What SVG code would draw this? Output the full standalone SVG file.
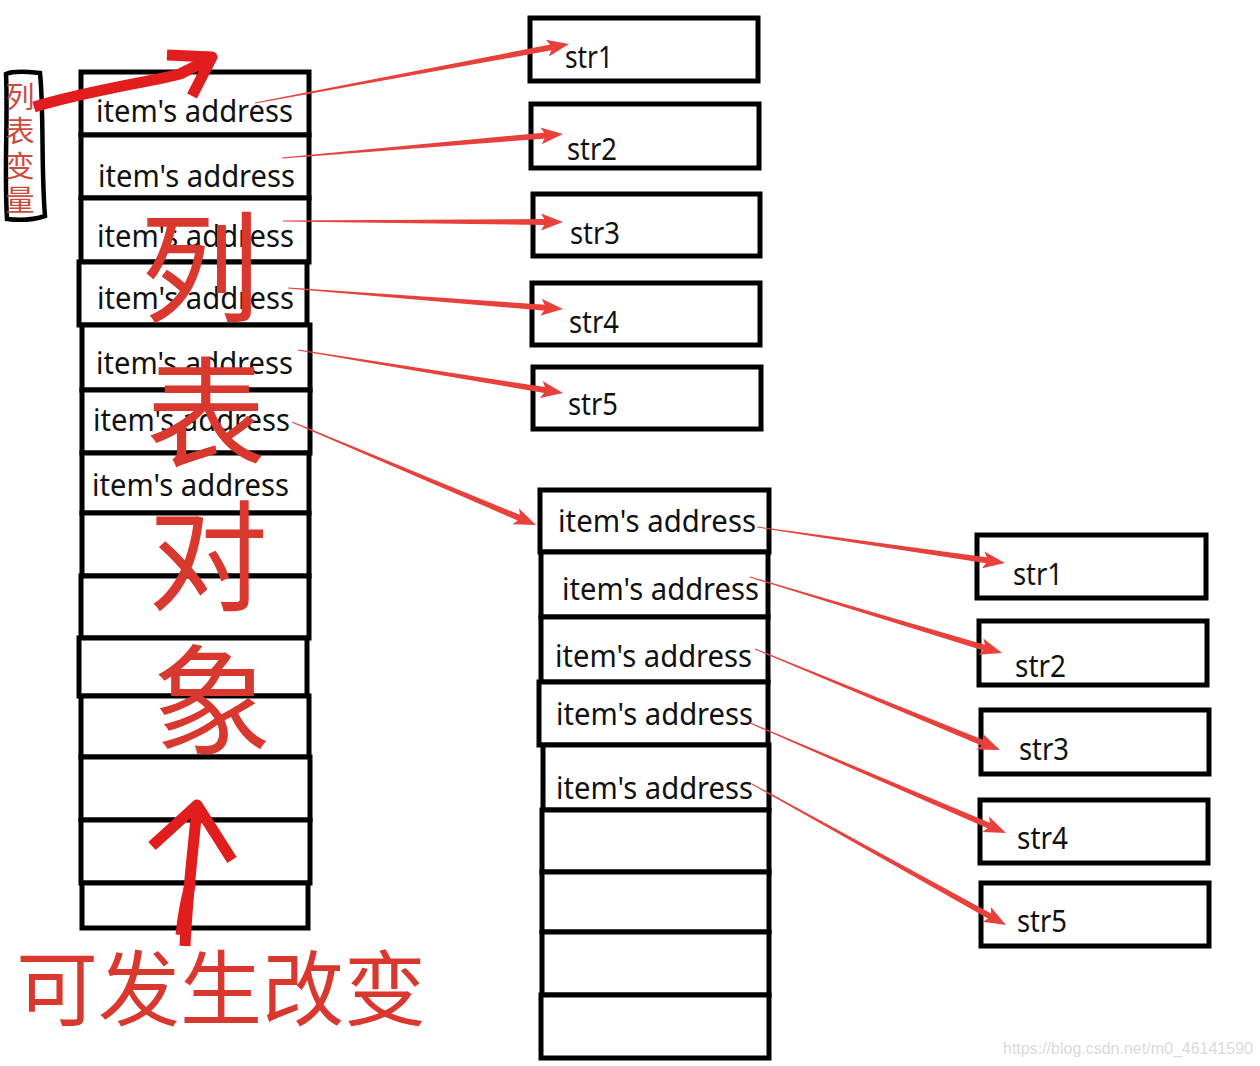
<svg xmlns="http://www.w3.org/2000/svg" xmlns:xlink="http://www.w3.org/1999/xlink" width="1260" height="1066" viewBox="0 0 1260 1066">
<style>
.cell{fill:#fff;stroke:#000;stroke-width:5}
.box{fill:#fff;stroke:#000;stroke-width:5}
.t{font-family:"Noto Sans","Open Sans","Liberation Sans",sans-serif;font-size:31px;fill:#111}
.big{font-family:"Noto Sans CJK SC","Noto Sans",sans-serif;font-size:120px;fill:#d9382e;text-anchor:middle}
.lbl{font-family:"Noto Sans CJK SC",sans-serif;font-size:29px;fill:#cf4a3e;text-anchor:middle}
.bot{font-family:"Noto Sans CJK SC",sans-serif;font-size:82px;fill:#d9382e}
.conn{fill:#e8413b}
.hand{fill:none;stroke:#e21d1d;stroke-width:11;stroke-linecap:butt;stroke-linejoin:round}
.wm{font-family:"Liberation Sans",Arial,sans-serif;font-size:16px;fill:#dadada}
</style>
<defs>
<polygon id="shaft" points="0,-0.5 100,-3 100,3 0,0.5"/>
<polygon id="head" points="0,0 -22,-8.5 -17,0 -22,8.5"/>
</defs>
<rect width="1260" height="1066" fill="#fff"/>

<g id="list1">
<g id="l1r1"><rect class="cell" x="81" y="72" width="228" height="63"/><text class="t" x="96" y="122" textLength="197" lengthAdjust="spacingAndGlyphs">item's address</text></g>
<g id="l1r2"><rect class="cell" x="81" y="135" width="228" height="63"/><text class="t" x="98" y="187" textLength="197" lengthAdjust="spacingAndGlyphs">item's address</text></g>
<g id="l1r3"><rect class="cell" x="81" y="198" width="228" height="64"/><text class="t" x="97" y="247" textLength="197" lengthAdjust="spacingAndGlyphs">item's address</text></g>
<g id="l1r4"><rect class="cell" x="79" y="262" width="228" height="63"/><text class="t" x="97" y="309" textLength="197" lengthAdjust="spacingAndGlyphs">item's address</text></g>
<g id="l1r5"><rect class="cell" x="82" y="325" width="228" height="65"/><text class="t" x="96" y="374" textLength="197" lengthAdjust="spacingAndGlyphs">item's address</text></g>
<g id="l1r6"><rect class="cell" x="82" y="390" width="228" height="63"/><text class="t" x="93" y="431" textLength="197" lengthAdjust="spacingAndGlyphs">item's address</text></g>
<g id="l1r7"><rect class="cell" x="82" y="453" width="227" height="60"/><text class="t" x="92" y="496" textLength="197" lengthAdjust="spacingAndGlyphs">item's address</text></g>
<g id="l1r8"><rect class="cell" x="82" y="513" width="227" height="63"/></g>
<g id="l1r9"><rect class="cell" x="81" y="576" width="228" height="62"/></g>
<g id="l1r10"><rect class="cell" x="79" y="638" width="228" height="58"/></g>
<g id="l1r11"><rect class="cell" x="81" y="696" width="228" height="61"/></g>
<g id="l1r12"><rect class="cell" x="81" y="757" width="229" height="63"/></g>
<g id="l1r13"><rect class="cell" x="81" y="820" width="229" height="63"/></g>
<g id="l1r14"><rect class="cell" x="82" y="883" width="226" height="45"/></g>
</g>

<g id="list2">
<g id="l2r1"><rect class="cell" x="540" y="490" width="229" height="62"/><text class="t" x="558" y="532" textLength="198" lengthAdjust="spacingAndGlyphs">item's address</text></g>
<g id="l2r2"><rect class="cell" x="541" y="552" width="227" height="65"/><text class="t" x="562" y="600" textLength="197" lengthAdjust="spacingAndGlyphs">item's address</text></g>
<g id="l2r3"><rect class="cell" x="541" y="617" width="227" height="65"/><text class="t" x="555" y="667" textLength="197" lengthAdjust="spacingAndGlyphs">item's address</text></g>
<g id="l2r4"><rect class="cell" x="539" y="682" width="229" height="63"/><text class="t" x="556" y="725" textLength="197" lengthAdjust="spacingAndGlyphs">item's address</text></g>
<g id="l2r5"><rect class="cell" x="543" y="745" width="226" height="65"/><text class="t" x="556" y="799" textLength="197" lengthAdjust="spacingAndGlyphs">item's address</text></g>
<g id="l2r6"><rect class="cell" x="542" y="810" width="227" height="62"/></g>
<g id="l2r7"><rect class="cell" x="542" y="872" width="227" height="60"/></g>
<g id="l2r8"><rect class="cell" x="542" y="932" width="227" height="63"/></g>
<g id="l2r9"><rect class="cell" x="541" y="995" width="228" height="63"/></g>
</g>

<g id="strA1"><rect class="box" x="530" y="18" width="228" height="63"/><text class="t" x="565" y="68" textLength="48" lengthAdjust="spacingAndGlyphs">str1</text></g>
<g id="strA2"><rect class="box" x="531" y="104" width="228" height="64"/><text class="t" x="567" y="160" textLength="50" lengthAdjust="spacingAndGlyphs">str2</text></g>
<g id="strA3"><rect class="box" x="533" y="194" width="227" height="62"/><text class="t" x="570" y="244" textLength="50" lengthAdjust="spacingAndGlyphs">str3</text></g>
<g id="strA4"><rect class="box" x="532" y="283" width="228" height="62"/><text class="t" x="569" y="333" textLength="50" lengthAdjust="spacingAndGlyphs">str4</text></g>
<g id="strA5"><rect class="box" x="533" y="367" width="228" height="62"/><text class="t" x="568" y="415" textLength="50" lengthAdjust="spacingAndGlyphs">str5</text></g>

<g id="strB1"><rect class="box" x="977" y="535" width="229" height="63"/><text class="t" x="1013" y="585" textLength="50" lengthAdjust="spacingAndGlyphs">str1</text></g>
<g id="strB2"><rect class="box" x="979" y="621" width="228" height="64"/><text class="t" x="1015" y="677" textLength="51" lengthAdjust="spacingAndGlyphs">str2</text></g>
<g id="strB3"><rect class="box" x="981" y="710" width="228" height="64"/><text class="t" x="1019" y="760" textLength="50" lengthAdjust="spacingAndGlyphs">str3</text></g>
<g id="strB4"><rect class="box" x="980" y="800" width="228" height="63"/><text class="t" x="1017" y="849" textLength="51" lengthAdjust="spacingAndGlyphs">str4</text></g>
<g id="strB5"><rect class="box" x="981" y="883" width="228" height="63"/><text class="t" x="1017" y="932" textLength="50" lengthAdjust="spacingAndGlyphs">str5</text></g>

<g id="bigLabel">
<text class="big" x="200" y="313">列</text>
<text class="big" x="206" y="458">表</text>
<text class="big" x="208" y="602">对</text>
<text class="big" x="212" y="746">象</text>
</g>

<g id="varLabel">
<path d="M6,74 C15,70 30,72 40,73 C44,110 41,170 45,216 C30,221 15,220 7,219 C4,170 8,120 6,74 Z" fill="#fff" stroke="#000" stroke-width="4.5"/>
<text class="lbl" x="20" y="108">列</text>
<text class="lbl" x="20" y="142">表</text>
<text class="lbl" x="20" y="177">变</text>
<text class="lbl" x="20" y="211">量</text>
</g>

<g id="connectors" class="conn">
<g transform="translate(255 103) rotate(-10.64)"><use href="#shaft" transform="scale(3.025 1)"/><use href="#head" x="319.5"/></g>
<g transform="translate(282 158) rotate(-4.88)"><use href="#shaft" transform="scale(2.65 1)"/><use href="#head" x="282"/></g>
<g transform="translate(283 221) rotate(0.2)"><use href="#shaft" transform="scale(2.63 1)"/><use href="#head" x="280"/></g>
<g transform="translate(288 288) rotate(4.37)"><use href="#shaft" transform="scale(2.588 1)"/><use href="#head" x="275.8"/></g>
<g transform="translate(298 350) rotate(9.22)"><use href="#shaft" transform="scale(2.515 1)"/><use href="#head" x="268.5"/></g>
<g transform="translate(292 422) rotate(22.88)"><use href="#shaft" transform="scale(2.479 1)"/><use href="#head" x="264.9"/></g>
<g transform="translate(757 527) rotate(8.26)"><use href="#shaft" transform="scale(2.336 1)"/><use href="#head" x="250.6"/></g>
<g transform="translate(750 577) rotate(16.78)"><use href="#shaft" transform="scale(2.462 1)"/><use href="#head" x="263.2"/></g>
<g transform="translate(755 649) rotate(22.40)"><use href="#shaft" transform="scale(2.48 1)"/><use href="#head" x="265"/></g>
<g transform="translate(750 723) rotate(23.25)"><use href="#shaft" transform="scale(2.616 1)"/><use href="#head" x="278.6"/></g>
<g transform="translate(752 784) rotate(29.04)"><use href="#shaft" transform="scale(2.735 1)"/><use href="#head" x="290.5"/></g>
<path class="hand" d="M34,107 C90,90 150,82 180,74 L208,60"/>
<path class="hand" d="M167,55 L212,57 L192,96"/>
<path class="hand" stroke-width="9" d="M185,946 C187,900 192,860 197,808"/>
<path class="hand" stroke-width="5" d="M181,935 C183,915 186,900 190,885"/>
<path class="hand" stroke-width="9" d="M152,846 L197,805 L232,860"/>
</g>

<text id="changeLabel" class="bot" x="16" y="1019">可发生改变</text>
<text class="wm" x="1003" y="1054">https://blog.csdn.net/m0_46141590</text>
</svg>
